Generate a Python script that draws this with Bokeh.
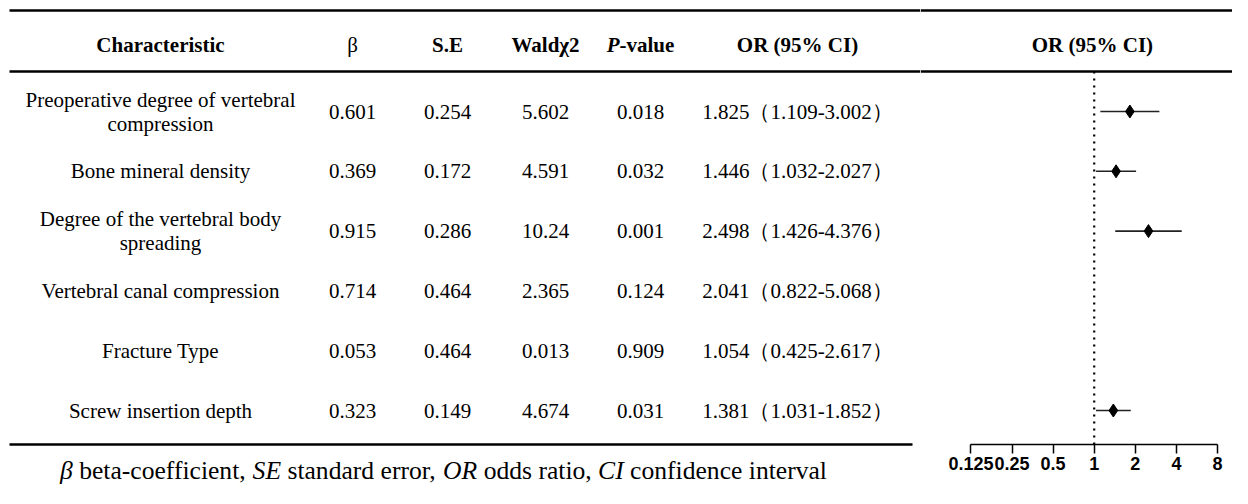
from bokeh.plotting import figure
from bokeh.layouts import row
from bokeh.models import Range1d, FixedTicker, ColumnDataSource
from bokeh.core.properties import value
from bokeh.embed import file_html
from bokeh.resources import INLINE

# ---------------- data ----------------
characteristics = [
    "Preoperative degree of vertebral\ncompression",
    "Bone mineral density",
    "Degree of the vertebral body\nspreading",
    "Vertebral canal compression",
    "Fracture Type",
    "Screw insertion depth",
]
beta = ["0.601", "0.369", "0.915", "0.714", "0.053", "0.323"]
std_err = ["0.254", "0.172", "0.286", "0.464", "0.464", "0.149"]
wald_chi2 = ["5.602", "4.591", "10.24", "2.365", "0.013", "4.674"]
p_value = ["0.018", "0.032", "0.001", "0.124", "0.909", "0.031"]
odds_ratio = [1.825, 1.446, 2.498, 2.041, 1.054, 1.381]
ci_lower = [1.109, 1.032, 1.426, 0.822, 0.425, 1.031]
ci_upper = [3.002, 2.027, 4.376, 5.068, 2.617, 1.852]
shown_in_forest = [True, True, True, False, False, True]
or_ticks = [0.125, 0.25, 0.5, 1.0, 2.0, 4.0, 8.0]
or_tick_labels = ["0.125", "0.25", "0.5", "1", "2", "4", "8"]
footnote_parts = [("β", True), ("beta-coefficient,", False), ("SE", True),
                  ("standard error,", False), ("OR", True), ("odds ratio,", False),
                  ("CI", True), ("confidence interval", False)]

# ---------------- layout ----------------
H = 488
W_TABLE = 920
W_FOREST = 312
ROW0_Y = 111.0      # px, centre of first row
ROW_STEP = 59.8     # px between rows
TOP_Y, HEAD_Y, HEAD_LINE_Y, BOTTOM_Y, FOOT_Y = 10, 44, 71, 444, 470
col_x = [160, 352, 447, 545, 640, 797]


def ky(py):
    return (py - ROW0_Y) / ROW_STEP


SERIF = value("Liberation Serif")
BODY = "21px"


def no_align(fig):
    if "frame_align" in fig.properties():
        fig.frame_align = False


# ---------------- table figure ----------------
p1 = figure(width=W_TABLE, height=H, x_range=Range1d(0, W_TABLE),
            y_range=Range1d(ky(H), ky(0)), output_backend="svg",
            toolbar_location=None, x_axis_location=None, y_axis_location=None,
            min_border_left=0, min_border_right=0, min_border_top=0,
            min_border_bottom=0)
p1.outline_line_color = None
p1.grid.grid_line_color = None
no_align(p1)

p1.segment(x0=[9, 9, 9], x1=[W_TABLE, W_TABLE, 912],
           y0=[ky(TOP_Y), ky(HEAD_LINE_Y), ky(BOTTOM_Y)],
           y1=[ky(TOP_Y), ky(HEAD_LINE_Y), ky(BOTTOM_Y)],
           line_color="black", line_width=2.5)

hdr = dict(text_font=SERIF, text_font_size=BODY, text_font_style="bold",
           text_align="center", text_baseline="middle", text_color="black")
p1.text(x=[col_x[0]], y=[ky(HEAD_Y)], text=["Characteristic"], **hdr)
p1.text(x=[col_x[1]], y=[ky(HEAD_Y)], text=["β"], text_font=SERIF,
        text_font_size=BODY, text_align="center", text_baseline="middle",
        text_color="black")
p1.text(x=[col_x[2]], y=[ky(HEAD_Y)], text=["S.E"], **hdr)
p1.text(x=[col_x[3]], y=[ky(HEAD_Y)], text=["Waldχ2"], **hdr)
p_split = col_x[4] - 21
p1.text(x=[p_split], y=[ky(HEAD_Y)], text=["P"], text_font=SERIF,
        text_font_size=BODY, text_font_style="bold italic", text_align="right",
        text_baseline="middle", text_color="black")
p1.text(x=[p_split], y=[ky(HEAD_Y)], text=["-value"], text_font=SERIF,
        text_font_size=BODY, text_font_style="bold", text_align="left",
        text_baseline="middle", text_color="black")
p1.text(x=[col_x[5]], y=[ky(HEAD_Y)], text=["OR (95% CI)"], **hdr)

or_text = [f"{o:.3f}（{lo:.3f}-{hi:.3f}）" for o, lo, hi in zip(odds_ratio, ci_lower, ci_upper)]
src = ColumnDataSource(dict(y=list(range(len(characteristics))), char=characteristics,
                            beta=beta, se=std_err, wald=wald_chi2, p=p_value, ort=or_text))
body = dict(text_font=SERIF, text_font_size=BODY, text_align="center",
            text_baseline="middle", text_color="black", text_line_height=1.0)
for cx, field in zip(col_x, ["char", "beta", "se", "wald", "p", "ort"]):
    p1.text(x=cx, y="y", text=field, source=src, **body)

# footnote (Times metrics, em/1000)
widths = {' ': 250, ',': 250, '-': 333, '.': 250, 'a': 444, 'b': 500, 'c': 444,
          'd': 500, 'e': 444, 'f': 333, 'g': 500, 'h': 500, 'i': 278, 'l': 278,
          'm': 778, 'n': 500, 'o': 500, 'r': 333, 's': 389, 't': 278, 'u': 500,
          'v': 500, 'y': 500, 'S': 500, 'E': 611, 'O': 722, 'R': 611, 'C': 667,
          'I': 333, 'β': 500}
FOOT_PX = 25.6
part_w = [sum(widths.get(ch, 500) for ch in t) / 1000 * FOOT_PX for t, _ in footnote_parts]
space_w = 0.25 * FOOT_PX
total = sum(part_w) + space_w * (len(footnote_parts) - 1)
cur = 443 - total / 2
for (t, it), w in zip(footnote_parts, part_w):
    p1.text(x=[cur], y=[ky(FOOT_Y)], text=[t], text_font=SERIF,
            text_font_size=f"{FOOT_PX}px", text_font_style="italic" if it else "normal",
            text_align="left", text_baseline="middle", text_color="black")
    cur += w + space_w

# ---------------- forest figure ----------------
px_per_oct = 41.1
one_px = 1093.7
x_start = 2 ** ((W_TABLE - one_px) / px_per_oct)
x_end = 2 ** ((W_TABLE + W_FOREST - one_px) / px_per_oct)

p2 = figure(width=W_FOREST, height=H, x_axis_type="log",
            x_range=Range1d(x_start, x_end),
            y_range=Range1d(ky(BOTTOM_Y), ky(0)), output_backend="svg",
            toolbar_location=None, y_axis_location=None,
            min_border_left=0, min_border_right=0, min_border_top=0,
            min_border_bottom=H - BOTTOM_Y)
p2.outline_line_color = None
p2.grid.grid_line_color = None
no_align(p2)

p2.segment(x0=[x_start, x_start], x1=[x_end, x_end],
           y0=[ky(TOP_Y), ky(HEAD_LINE_Y)], y1=[ky(TOP_Y), ky(HEAD_LINE_Y)],
           line_color="black", line_width=2.5)
p2.text(x=[0.97], y=[ky(HEAD_Y)], text=["OR (95% CI)"], **hdr)
p2.segment(x0=[1.0], x1=[1.0], y0=[ky(HEAD_LINE_Y)], y1=[ky(BOTTOM_Y)],
           line_color="black", line_width=2.2, line_dash="2 5")

idx = [i for i, s in enumerate(shown_in_forest) if s]
fsrc = ColumnDataSource(dict(y=idx, orv=[odds_ratio[i] for i in idx],
                             lo=[ci_lower[i] for i in idx], hi=[ci_upper[i] for i in idx]))
p2.segment(x0="lo", x1="hi", y0="y", y1="y", source=fsrc, line_color="#222222",
           line_width=1.6)
p2.scatter(x="orv", y="y", source=fsrc, marker="diamond", size=13, color="black")

ax = p2.xaxis[0]
ax.ticker = FixedTicker(ticks=or_ticks)
ax.major_label_overrides = {t: l for t, l in zip(or_ticks, or_tick_labels)}
ax.bounds = (or_ticks[0], or_ticks[-1])
ax.axis_line_color = "black"
ax.axis_line_width = 1.5
ax.major_tick_line_color = "black"
ax.major_tick_line_width = 1.5
ax.major_tick_out = 9
ax.major_tick_in = 0
ax.minor_tick_line_color = None
ax.major_label_standoff = 3
ax.major_label_text_font = "Liberation Sans"
ax.major_label_text_font_style = "bold"
ax.major_label_text_font_size = "18px"
ax.major_label_text_color = "black"

layout = row(p1, p2)
open("out.html", "w").write(file_html(layout, INLINE))
